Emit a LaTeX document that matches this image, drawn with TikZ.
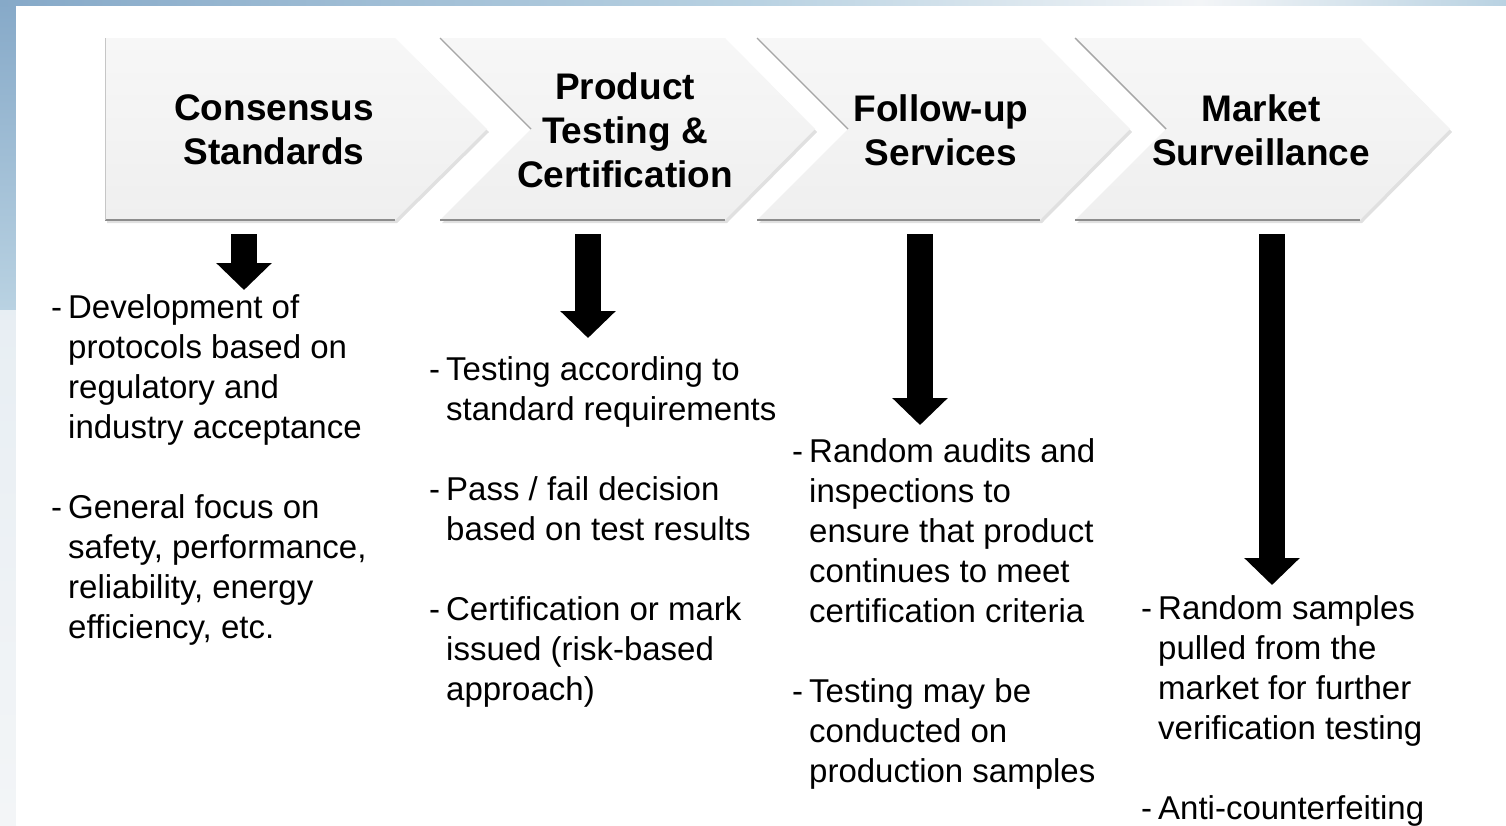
\documentclass[tikz,border=0pt]{standalone}
\usepackage{fontspec}
\setmainfont{Liberation Sans}
\usetikzlibrary{arrows.meta}
\definecolor{sky}{HTML}{86A9C8}
\definecolor{skylight}{HTML}{B9D2E2}
\definecolor{skypale}{HTML}{F3F5F7}
\definecolor{chevtop}{HTML}{F7F7F7}
\definecolor{chevbot}{HTML}{EFEFEF}
\definecolor{chevedge}{HTML}{8C8C8C}
\begin{document}
\begin{tikzpicture}[x=1pt,y=-1pt,
  chevbody/.style={top color=chevtop, bottom color=chevbot, draw=none},
  chevshadow/.style={fill=black, fill opacity=0.12, draw=none},
  edgeline/.style={draw=chevedge, line width=1.6pt},
  softline/.style={draw=gray!45, line width=1pt},
  notchline/.style={draw=gray!70, line width=1.4pt},
  hdr/.style={font=\fontsize{37}{44}\selectfont\bfseries, align=center, inner sep=0pt},
  body/.style={font=\fontsize{33}{40}\selectfont, anchor=base west, inner sep=0pt},
  bigarrow/.style={line width=26pt, -{Triangle[width=54pt,length=27pt]}}]
\useasboundingbox (0,0) rectangle (1506,825);
% background frame
\shade[top color=sky, bottom color=skylight] (0,0) rectangle (16,310);
\shade[top color=skypale!80!skylight, bottom color=skypale] (0,310) rectangle (16,825);
\shade[left color=sky, right color=skylight] (0,0) rectangle (760,6);
\shade[left color=skylight, right color=skypale] (760,0) rectangle (1200,6);
\shade[left color=skypale, right color=skylight] (1200,0) rectangle (1506,6);
\fill[white] (16,6) rectangle (1506,825);

% chevron 1
\fill[chevshadow] (107,41) -- (397,41) -- (489,132) -- (397,223) -- (107,223) -- cycle;
\path[chevbody] (105,38) -- (395,38) -- (487,129) -- (395,220) -- (105,220) -- cycle;
\draw[edgeline] (105,220) -- (395,220);
\draw[softline] (105,38) -- (105,220);
% chevron 2
\fill[chevshadow] (442,41) -- (727,41) -- (817,132) -- (727,223) -- (442,223) -- (533,132) -- cycle;
\path[chevbody] (440,38) -- (725,38) -- (815,129) -- (725,220) -- (440,220) -- (531,129) -- cycle;
\draw[edgeline] (440,220) -- (725,220);
\draw[notchline] (440,38) -- (531,129);
% chevron 3
\fill[chevshadow] (759,41) -- (1042,41) -- (1132,132) -- (1042,223) -- (759,223) -- (850,132) -- cycle;
\path[chevbody] (757,38) -- (1040,38) -- (1130,129) -- (1040,220) -- (757,220) -- (848,129) -- cycle;
\draw[edgeline] (757,220) -- (1040,220);
\draw[notchline] (757,38) -- (848,129);
% chevron 4
\fill[chevshadow] (1077,41) -- (1362,41) -- (1452,132) -- (1362,223) -- (1077,223) -- (1168,132) -- cycle;
\path[chevbody] (1075,38) -- (1360,38) -- (1450,129) -- (1360,220) -- (1075,220) -- (1166,129) -- cycle;
\draw[edgeline] (1075,220) -- (1360,220);
\draw[notchline] (1075,38) -- (1166,129);

% headers
\node[hdr] (h1) at (274,130) {Consensus\\Standards};
\node[hdr] (h2) at (625,130) {Product\\Testing \&\\Certification};
\node[hdr] (h3) at (941,130) {Follow-up\\Services};
\node[hdr] (h4) at (1261,130) {Market\\Surveillance};

% arrows
\coordinate (a1s) at (244,234); \coordinate (a1e) at (244,290);
\coordinate (a2s) at (588,234); \coordinate (a2e) at (588,338);
\coordinate (a3s) at (920,234); \coordinate (a3e) at (920,425);
\coordinate (a4s) at (1272,234); \coordinate (a4e) at (1272,585);
\draw[bigarrow] (a1s) -- (a1e);
\draw[bigarrow] (a2s) -- (a2e);
\draw[bigarrow] (a3s) -- (a3e);
\draw[bigarrow] (a4s) -- (a4e);

% body texts
\node[body] (t1) at (51,318) {\begin{tabular}[t]{@{}l@{\hspace{6pt}}l@{}}
-&Development of\\
 &protocols based on\\
 &regulatory and\\
 &industry acceptance\\
 &\\
-&General focus on\\
 &safety, performance,\\
 &reliability, energy\\
 &efficiency, etc.
\end{tabular}};
\node[body] (t2) at (429,380) {\begin{tabular}[t]{@{}l@{\hspace{6pt}}l@{}}
-&Testing according to\\
 &standard requirements\\
 &\\
-&Pass / fail decision\\
 &based on test results\\
 &\\
-&Certification or mark\\
 &issued (risk-based\\
 &approach)
\end{tabular}};
\node[body] (t3) at (792,462) {\begin{tabular}[t]{@{}l@{\hspace{6pt}}l@{}}
-&Random audits and\\
 &inspections to\\
 &ensure that product\\
 &continues to meet\\
 &certification criteria\\
 &\\
-&Testing may be\\
 &conducted on\\
 &production samples
\end{tabular}};
\node[body] (t4) at (1141,619) {\begin{tabular}[t]{@{}l@{\hspace{6pt}}l@{}}
-&Random samples\\
 &pulled from the\\
 &market for further\\
 &verification testing\\
 &\\
-&Anti-counterfeiting
\end{tabular}};
\end{tikzpicture}
\end{document}
